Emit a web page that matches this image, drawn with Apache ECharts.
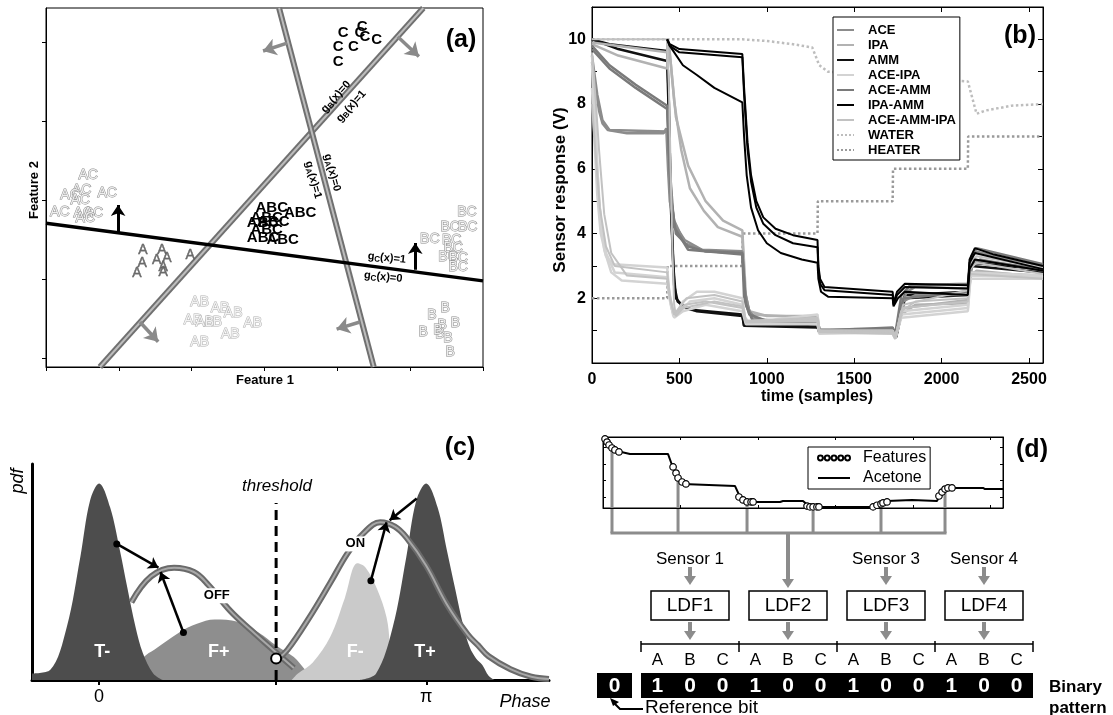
<!DOCTYPE html>
<html><head><meta charset="utf-8">
<script src="https://cdn.jsdelivr.net/npm/echarts@6.0.0/dist/echarts.min.js"></script>
<style>html,body{margin:0;padding:0;background:#fff;}#chart{width:1113px;height:715px;}</style>
</head><body><div id="chart"></div>
<script>
const FONT = '"Liberation Sans", Arial, Helvetica, sans-serif';

// ---------------- (a) feature space ----------------
const aLineC = [[0,1.82],[6,1.09]];
const aLineB = [[0.74,0],[5.18,4.544]];
const aLineA = [[3.20,4.544],[4.50,0]];
const aC   = [[4.08,4.23],[4.01,4.05],[4.22,4.05],[4.01,3.86],[4.34,4.30],[4.38,4.18],[4.54,4.14],[4.31,4.23]];
const aAC  = [[0.58,2.43],[0.49,2.24],[0.33,2.18],[0.84,2.20],[0.47,2.11],[0.19,1.96],[0.51,1.95],[0.65,1.95],[0.54,1.89]];
const aA   = [[1.33,1.48],[1.59,1.48],[1.98,1.42],[1.32,1.32],[1.52,1.35],[1.66,1.38],[1.61,1.27],[1.25,1.19],[1.61,1.20]];
const aABC = [[3.10,2.01],[3.49,1.95],[3.03,1.89],[2.98,1.82],[3.03,1.73],[2.98,1.63],[3.25,1.61],[3.12,1.84]];
const aBC  = [[5.78,1.96],[5.55,1.77],[5.79,1.77],[5.27,1.62],[5.57,1.61],[5.59,1.51],[5.52,1.39],[5.66,1.38],[5.66,1.27]];
const aAB  = [[2.11,0.82],[2.39,0.75],[2.57,0.68],[2.02,0.59],[2.29,0.57],[2.84,0.56],[2.53,0.42],[2.11,0.32],[2.18,0.57]];
const aB   = [[5.48,0.75],[5.30,0.66],[5.62,0.56],[5.18,0.44],[5.44,0.53],[5.41,0.41],[5.52,0.37],[5.55,0.19],[5.38,0.47]];
const aArrowsUp   = [[[0.99,1.71],[0.99,2.05]],[[5.07,1.23],[5.07,1.57]]];
const aArrowsGray = [[[4.83,4.18],[5.12,3.93]],[[1.29,0.57],[1.54,0.32]],[[3.31,4.10],[2.98,4.00]],[[4.31,0.57],[3.99,0.48]]];
const aLabB = [[3.98,3.42,'0'],[4.19,3.30,'1']];
const aLabA = [[3.93,2.46,'0'],[3.67,2.37,'1']];
const aLabC = [[4.68,1.38,'1'],[4.63,1.14,'0']];
const aYTicks = [0.114,1.114,2.114,3.114,4.114];

// ---------------- (b) sensor responses ----------------
const bNames = ['ACE','IPA','AMM','ACE-IPA','ACE-AMM','IPA-AMM','ACE-AMM-IPA','WATER','HEATER'];
const bACE = [
 [[0,9.3],[20,8.5],[40,7.8],[60,7.4],[90,7.2],[200,7.1],[410,7.1],[425,7.25],[435,6.0],[445,5.0],[470,4.3],[530,3.8],[630,3.5],[860,3.45],[875,2.2],[900,1.6],[950,1.3],[1290,1.2],[1300,1.0],[1500,1.05],[1720,1.05],[1735,0.8],[1760,1.6],[1800,2.2],[1850,2.35],[2150,2.3],[2165,3.2],[2200,3.45],[2300,3.3],[2580,3.0]],
 [[0,9.5],[30,8.3],[60,7.5],[100,7.2],[430,7.15],[445,5.3],[470,4.4],[530,3.7],[650,3.45],[860,3.4],[880,1.9],[920,1.35],[1290,1.25],[1310,0.95],[1720,0.95],[1730,0.8],[1780,1.9],[1850,2.1],[2150,2.1],[2170,3.0],[2220,3.2],[2580,2.85]]
];
const bIPA = [
 [[0,9.85],[150,9.5],[430,9.1],[432,10],[445,9.6],[470,8.1],[510,6.6],[560,5.4],[640,4.7],[720,4.2],[860,3.9],[875,2.2],[900,1.6],[1000,1.45],[1290,1.45],[1300,1.0],[1720,0.95],[1735,0.75],[1770,1.5],[1850,1.8],[2150,1.85],[2165,2.7],[2200,2.85],[2580,2.65]],
 [[0,9.9],[430,9.6],[435,10],[450,9.3],[480,7.6],[550,6.1],[650,5.0],[750,4.4],[860,4.1],[880,2.1],[900,1.5],[1290,1.4],[1300,1.05],[1720,1.0],[1735,0.8],[1780,1.7],[2150,1.95],[2170,2.8],[2580,2.7]]
];
const bAMM = [
 [[0,10],[100,9.85],[430,9.64],[440,8.0],[450,5.0],[465,3.0],[480,2.0],[520,1.75],[600,1.6],[860,1.45],[870,1.15],[900,1.2],[1290,1.15],[1300,1.0],[1720,1.05],[1740,0.85],[1790,2.1],[2150,2.2],[2170,3.1],[2580,2.9]],
 [[0,10],[150,9.7],[430,9.33],[440,7.5],[455,4.5],[470,2.4],[490,1.9],[550,1.65],[860,1.5],[870,1.15],[1290,1.1],[1300,0.95],[1720,1.0],[1740,0.8],[1790,2.0],[2150,2.1],[2170,3.0],[2580,2.8]]
];
const bACEIPA = [
 [[0,8.5],[15,6.8],[30,5.2],[50,4.0],[80,3.3],[120,3.05],[430,2.95],[440,2.3],[460,1.6],[480,1.5],[520,1.9],[600,2.2],[700,2.2],[860,2.0],[875,1.4],[900,1.25],[1290,1.5],[1300,1.0],[1720,1.0],[1735,0.8],[1770,1.4],[2150,1.6],[2165,2.6],[2580,2.6]],
 [[0,9.5],[15,8.0],[30,6.0],[50,4.4],[80,3.4],[130,2.8],[430,2.65],[445,2.0],[465,1.45],[490,1.5],[560,1.9],[700,2.0],[860,1.8],[880,1.3],[1290,1.3],[1300,0.95],[1720,0.9],[1735,0.75],[1770,1.5],[2150,1.7],[2165,2.7],[2580,2.65]],
 [[0,9.2],[20,7.2],[40,5.0],[70,3.5],[110,2.8],[170,2.55],[430,2.45],[450,1.8],[470,1.4],[520,1.6],[650,1.8],[860,1.6],[880,1.2],[1290,1.2],[1300,0.9],[1720,0.95],[1735,0.75],[1770,1.6],[2150,1.8],[2165,2.8],[2580,2.7]]
];
const bACEAMM = [
 [[0,9.8],[100,9.2],[250,8.6],[430,7.95],[440,6.5],[455,5.0],[480,4.0],[550,3.6],[650,3.45],[860,3.4],[870,2.0],[900,1.5],[1000,1.3],[1290,1.3],[1300,1.0],[1720,1.1],[1735,0.9],[1770,2.1],[1820,2.4],[2150,2.45],[2170,3.3],[2200,3.55],[2580,3.05]],
 [[0,9.7],[100,9.1],[250,8.5],[430,7.85],[445,6.0],[470,4.2],[550,3.5],[860,3.35],[880,1.8],[920,1.3],[1290,1.2],[1300,0.95],[1720,1.0],[1740,0.8],[1780,2.0],[2150,2.2],[2180,3.2],[2580,2.9]]
];
const bIPAAMM = [
 [[430,10],[445,9.85],[500,9.7],[860,9.55],[870,8.5],[890,6.8],[910,5.8],[940,5.0],[980,4.5],[1050,4.15],[1150,3.95],[1290,3.8],[1295,3.0],[1305,2.6],[1330,2.35],[1720,2.2],[1725,1.85],[1745,2.2],[1790,2.45],[2150,2.4],[2160,3.2],[2190,3.55],[2300,3.35],[2580,3.0]],
 [[430,10],[445,9.8],[500,9.6],[860,9.45],[870,8.3],[890,6.6],[910,5.6],[940,4.8],[980,4.3],[1050,3.95],[1150,3.7],[1290,3.58],[1295,2.9],[1305,2.45],[1330,2.25],[1720,2.1],[1725,1.8],[1745,2.1],[1790,2.35],[2150,2.3],[2160,3.1],[2190,3.4],[2580,2.9]],
 [[430,10],[445,9.8],[520,9.2],[600,8.9],[700,8.5],[860,8.05],[870,7.0],[885,5.8],[910,4.8],[950,4.1],[1000,3.7],[1080,3.4],[1200,3.2],[1290,3.1],[1295,2.6],[1310,2.2],[1350,2.05],[1720,2.0],[1725,1.75],[1750,2.0],[1790,2.2],[2150,2.1],[2160,2.9],[2190,3.2],[2580,2.85]]
];
const bACEAMMIPA = [
 [[0,9.6],[20,8.2],[40,6.6],[70,4.6],[110,3.4],[200,2.7],[430,2.6],[445,2.0],[470,1.5],[530,1.8],[650,1.9],[860,1.7],[880,1.3],[1290,1.35],[1300,1.0],[1720,1.0],[1735,0.8],[1770,1.6],[1850,1.9],[2150,2.0],[2165,2.9],[2200,3.1],[2580,2.75]],
 [[0,8.0],[20,6.5],[45,4.8],[80,3.6],[130,3.0],[430,2.8],[445,2.1],[470,1.5],[540,2.0],[700,2.1],[860,1.9],[880,1.3],[1290,1.4],[1300,1.0],[1720,0.95],[1735,0.8],[1780,1.8],[2150,2.25],[2165,3.1],[2200,3.3],[2580,2.95]],
 [[0,10],[430,10],[440,8.5],[450,6.0],[460,3.5],[470,1.8],[480,1.45],[520,1.7],[700,1.9],[860,1.75],[880,1.25],[1290,1.3],[1300,0.95],[1720,0.9],[1735,0.75],[1780,1.7],[2150,1.9],[2165,2.75],[2580,2.6]]
];
const bWATER = [[[0,10],[860,10],[1000,9.95],[1150,9.85],[1260,9.75],[1300,9.2],[1350,9.0],[1720,8.9],[1800,8.8],[2150,8.7],[2165,8.4],[2200,7.7],[2250,7.8],[2400,7.95],[2580,8.0]]];
const bHEATER = [[[0,2],[430,2],[432,3],[860,3],[862,4],[1290,4],[1292,5],[1720,5],[1722,6],[2150,6],[2152,7],[2580,7]]];

// ---------------- (c) phase pdfs ----------------
const cTminus = [[-0.644,0.03],[-0.47,0.046],[-0.31,0.245],[-0.18,0.57],[-0.087,0.83],[0,0.91],[0.106,0.80],[0.20,0.60],[0.27,0.43],[0.35,0.245],[0.42,0.125],[0.52,0.03],[0.61,0]];
const cTplus  = [[2.50,0],[2.66,0.03],[2.82,0.245],[2.95,0.57],[3.045,0.83],[3.14,0.91],[3.25,0.80],[3.34,0.60],[3.42,0.42],[3.50,0.245],[3.56,0.15],[3.62,0.10],[3.68,0.07],[3.74,0.02],[3.80,0]];
const cFplus  = [[0.30,0.01],[0.43,0.106],[0.53,0.14],[0.77,0.22],[0.94,0.26],[1.11,0.28],[1.33,0.27],[1.53,0.22],[1.70,0.16],[1.87,0.106],[1.98,0.046],[2.05,0.014],[2.10,0]];
const cFminus = [[1.85,0],[1.91,0.03],[2.05,0.08],[2.22,0.20],[2.36,0.38],[2.48,0.54],[2.56,0.52],[2.67,0.42],[2.76,0.29],[2.79,0.17],[2.80,0.03],[2.84,0]];
const cOff = [[0.31,0.36],[0.50,0.48],[0.72,0.52],[0.91,0.50],[1.05,0.44],[1.26,0.32],[1.46,0.23],[1.67,0.14],[1.87,0.055]];
const cOn  = [[1.72,0.10],[1.81,0.14],[2.02,0.29],[2.22,0.45],[2.39,0.59],[2.54,0.68],[2.70,0.73],[2.84,0.71],[2.95,0.66],[3.14,0.53],[3.34,0.35],[3.54,0.21],[3.64,0.16],[3.74,0.11],[3.95,0.05],[4.15,0.015],[4.32,0.005]];
const cThreshold = 1.70;
const cThresholdTop = 0.82;
const cArrows = [[[0.17,0.63],[0.57,0.52]],[[0.81,0.22],[0.59,0.50]],[[3.05,0.84],[2.79,0.74]],[[2.61,0.46],[2.76,0.73]]];
const cDots = [[0.17,0.63],[0.81,0.22],[2.61,0.46]];
const cCrossing = [[1.70,0.10]];
const cRegionLabels = [[0.03,0.13,'T-'],[1.15,0.13,'F+'],[2.46,0.13,'F-'],[3.13,0.13,'T+']];
const cCurveLabels = [[1.13,0.39,'OFF'],[2.46,0.63,'ON']];
const cTickLabels = ['0','π'];

// ---------------- (d) acetone features & binary pattern ----------------
const dAcetone = [[0,3.64],[13,3.58],[45,3.15],[90,2.79],[174,2.61],[419,2.61],[445,1.94],[477,1.21],[516,0.79],[851,0.67],[884,0],[929,-0.30],[1142,-0.30],[1161,-0.24],[1290,-0.24],[1335,-0.61],[1722,-0.61],[1767,-0.48],[1832,-0.24],[1993,-0.18],[2154,-0.24],[2174,0.12],[2219,0.55],[2451,0.55],[2464,0.48],[2580,0.48]];
const dFeatures = [[13,3.52],[26,3.33],[39,3.15],[58,2.97],[77,2.85],[103,2.73],
 [452,1.82],[471,1.45],[484,1.15],[510,0.91],[535,0.79],
 [877,0],[903,-0.18],[929,-0.30],[955,-0.30],[968,-0.30],
 [1316,-0.55],[1335,-0.6],[1355,-0.6],[1380,-0.6],[1393,-0.6],
 [1742,-0.6],[1767,-0.5],[1793,-0.42],[1806,-0.36],[1832,-0.30],
 [2167,0.06],[2187,0.30],[2206,0.48],[2225,0.55],[2251,0.55]];
const dConnectors = [[58,2.97],[484,1.15],[929,-0.30],[1355,-0.6],[1793,-0.42],[2206,0.48]];
const dSensorLabels = ['Sensor 1','','Sensor 3','Sensor 4'];
const dLdfLabels = ['LDF1','LDF2','LDF3','LDF4'];
const dClassLabels = ['A','B','C'];
const dRefBit = ['0'];
const dBits = [1,0,0,1,0,0,1,0,0,1,0,0];

// ================= build =================
const chart = echarts.init(document.getElementById('chart'));
const series = [];
const CLEAR = {color:'rgba(0,0,0,0)',opacity:1};

// (a)
function grayBand(data){
  series.push({type:'line',xAxisIndex:0,yAxisIndex:0,data,symbol:'none',silent:true,lineStyle:{color:'#707070',width:6},z:3});
  series.push({type:'line',xAxisIndex:0,yAxisIndex:0,data,symbol:'none',silent:true,lineStyle:{color:'#bdbdbd',width:2},z:3});
}
grayBand(aLineB); grayBand(aLineA);
series.push({type:'line',xAxisIndex:0,yAxisIndex:0,data:aLineC,symbol:'none',lineStyle:{color:'#000',width:3.5},z:3});
series.push({type:'lines',coordinateSystem:'cartesian2d',xAxisIndex:0,yAxisIndex:0,z:4,
  data:aArrowsUp.map(c=>({coords:c})),symbol:['none','arrow'],symbolSize:11,lineStyle:{color:'#000',width:3,opacity:1}});
series.push({type:'lines',coordinateSystem:'cartesian2d',xAxisIndex:0,yAxisIndex:0,z:4,
  data:aArrowsGray.map(c=>({coords:c})),symbol:['none','arrow'],symbolSize:13,lineStyle:{color:'#8a8a8a',width:3.5,opacity:1}});
function cluster(data,text,style){
  series.push({type:'scatter',xAxisIndex:0,yAxisIndex:0,data,symbolSize:1,itemStyle:CLEAR,z:5,
    label:Object.assign({show:true,position:'inside',opacity:1,formatter:text,fontFamily:FONT,fontSize:14,textBorderWidth:0},style)});
}
cluster(aAB,'AB',{color:'#f2f2f2',textBorderColor:'#b0b0b0',textBorderWidth:1});
cluster(aAC,'AC',{color:'#eeeeee',textBorderColor:'#8a8a8a',textBorderWidth:1});
cluster(aBC,'BC',{color:'#eeeeee',textBorderColor:'#8a8a8a',textBorderWidth:1});
cluster(aB,'B',{color:'#eeeeee',textBorderColor:'#8a8a8a',textBorderWidth:1});
cluster(aA,'A',{color:'#6a6a6a',textBorderColor:'#555',textBorderWidth:0.4});
cluster(aC,'C',{color:'#000',fontWeight:'bold',fontSize:15});
cluster(aABC,'ABC',{color:'#000',fontWeight:'bold',fontSize:15});
const gRich = {g:{fontFamily:FONT,fontSize:11,fontWeight:'bold',color:'#000'},s:{fontFamily:FONT,fontSize:8,fontWeight:'bold',color:'#000',padding:[5,0,0,0]}};
function gLabels(data,sub,rot){
  series.push({type:'scatter',xAxisIndex:0,yAxisIndex:0,data,symbolSize:1,itemStyle:CLEAR,z:6,
    label:{show:true,position:'inside',opacity:1,rotate:rot,textBorderWidth:0,formatter:p=>`{g|g}{s|${sub}}{g|(x)=${p.value[2]}}`,rich:gRich}});
}
gLabels(aLabB,'B',48); gLabels(aLabA,'A',-75); gLabels(aLabC,'C',-6);

// (b)
const bStyles = {
  'ACE':{color:'#8c8c8c',width:2.5},
  'IPA':{color:'#b2b2b2',width:2.5},
  'AMM':{color:'#111',width:2.5},
  'ACE-IPA':{color:'#d3d3d3',width:2.5},
  'ACE-AMM':{color:'#7a7a7a',width:2.5},
  'IPA-AMM':{color:'#000',width:2},
  'ACE-AMM-IPA':{color:'#c2c2c2',width:2},
  'WATER':{color:'#bdbdbd',width:2.5,type:'dotted'},
  'HEATER':{color:'#9a9a9a',width:2.5,type:'dotted'}
};
const bDrawOrder = [['HEATER',bHEATER],['WATER',bWATER],['AMM',bAMM],['IPA',bIPA],['ACE',bACE],['ACE-AMM',bACEAMM],['ACE-IPA',bACEIPA],['ACE-AMM-IPA',bACEAMMIPA],['IPA-AMM',bIPAAMM]];
bDrawOrder.forEach(([name,lines])=>{
  lines.forEach(l=>series.push({type:'line',name,xAxisIndex:1,yAxisIndex:1,data:l,symbol:'none',
    lineStyle:Object.assign({},bStyles[name]),itemStyle:{color:bStyles[name].color}}));
});

// (c)
function area(data,color){
  series.push({type:'line',xAxisIndex:2,yAxisIndex:2,data,symbol:'none',smooth:0.35,lineStyle:{width:0,color},areaStyle:{color,opacity:1,origin:'start'},z:2});
}
function tube(data){
  series.push({type:'line',xAxisIndex:2,yAxisIndex:2,data,symbol:'none',smooth:0.4,lineStyle:{color:'#6a6a6a',width:6},z:2});
  series.push({type:'line',xAxisIndex:2,yAxisIndex:2,data,symbol:'none',smooth:0.4,lineStyle:{color:'#a8a8a8',width:2},z:2});
}
area(cFplus,'#8e8e8e');
tube(cOff);
area(cTminus,'#4d4d4d');
area(cFminus,'#cacaca');
tube(cOn);
area(cTplus,'#4d4d4d');
series.push({type:'line',xAxisIndex:2,yAxisIndex:2,data:[[cThreshold,0],[cThreshold,cThresholdTop]],symbol:'none',lineStyle:{color:'#000',width:3,type:[10,6]},z:3});
series.push({type:'lines',coordinateSystem:'cartesian2d',xAxisIndex:2,yAxisIndex:2,z:4,
  data:cArrows.map(c=>({coords:c})),symbol:['none','arrow'],symbolSize:10,lineStyle:{color:'#000',width:2.5,opacity:1}});
series.push({type:'scatter',xAxisIndex:2,yAxisIndex:2,data:cDots,symbolSize:7,itemStyle:{color:'#000',opacity:1},z:5});
series.push({type:'scatter',xAxisIndex:2,yAxisIndex:2,data:cCrossing,symbolSize:10,itemStyle:{color:'#fff',borderColor:'#000',borderWidth:2,opacity:1},z:5});
series.push({type:'scatter',xAxisIndex:2,yAxisIndex:2,data:cRegionLabels,symbolSize:1,itemStyle:CLEAR,z:6,
  label:{show:true,position:'inside',opacity:1,formatter:p=>p.value[2],color:'#fff',fontFamily:FONT,fontSize:18,fontWeight:'bold',textBorderWidth:0}});
series.push({type:'scatter',xAxisIndex:2,yAxisIndex:2,data:cCurveLabels,symbolSize:1,itemStyle:CLEAR,z:6,
  label:{show:true,position:'inside',opacity:1,formatter:p=>p.value[2],color:'#000',fontFamily:FONT,fontSize:13,fontWeight:'bold',textBorderWidth:0,backgroundColor:'#fff',padding:[1,2]}});

// (d)
series.push({type:'line',name:'Acetone',xAxisIndex:3,yAxisIndex:3,data:dAcetone,symbol:'none',lineStyle:{color:'#000',width:2},itemStyle:{color:'#000'},z:3});
series.push({type:'scatter',name:'Features',xAxisIndex:3,yAxisIndex:3,data:dFeatures,symbol:'circle',symbolSize:6.5,itemStyle:{color:'#fff',borderColor:'#000',borderWidth:1.2,opacity:1},z:4});

let circles='path://';
for(let i=0;i<5;i++){const cx=3+i*7;circles+=`M${cx-2.5},3A2.5,2.5 0 1,0 ${cx+2.5},3A2.5,2.5 0 1,0 ${cx-2.5},3Z`;}

const hidden = {show:false};
function frameAxis(extra){return Object.assign({type:'value',splitLine:hidden,axisLine:{show:true,onZero:false,lineStyle:{color:'#000',width:1}}},extra);}
const tickFont = {color:'#000',fontFamily:FONT,fontSize:16,fontWeight:'bold'};

const option = {
  animation:false,
  backgroundColor:'#fff',
  grid:[
    {left:46,top:8,width:437,height:359,show:true,borderColor:'#000',borderWidth:1,outerBoundsMode:'none'},
    {left:592,top:7,width:451,height:356,show:true,borderColor:'#000',borderWidth:1,outerBoundsMode:'none'},
    {left:32,top:464,width:517,height:216,outerBoundsMode:'none'},
    {left:603,top:437,width:400,height:71,show:true,borderColor:'#000',borderWidth:1,outerBoundsMode:'none'}
  ],
  xAxis:[
    frameAxis({gridIndex:0,min:0,max:6,interval:1,axisTick:{inside:false,length:4,lineStyle:{color:'#000'}},axisLabel:hidden}),
    frameAxis({gridIndex:1,min:0,max:2580,interval:500,axisTick:{inside:true,length:5,lineStyle:{color:'#000'}},
      axisLabel:Object.assign({margin:9,formatter:v=>(v%500===0?String(v):'')},tickFont)}),
    frameAxis({gridIndex:2,min:-0.644,max:4.32,axisLine:{show:true,onZero:false,lineStyle:{color:'#000',width:3}},
      axisTick:{customValues:[0,Math.PI,cThreshold],inside:false,length:5,lineStyle:{color:'#000',width:2}},
      axisLabel:{customValues:[0,Math.PI],formatter:v=>(v<1?cTickLabels[0]:cTickLabels[1]),color:'#000',fontFamily:FONT,fontSize:18,margin:8}}),
    frameAxis({gridIndex:3,min:0,max:2580,interval:500,axisTick:{inside:true,length:3,lineStyle:{color:'#000'}},axisLabel:hidden}),
    frameAxis({gridIndex:3,position:'top',min:0,max:2580,interval:500,axisTick:{inside:true,length:3,lineStyle:{color:'#000'}},axisLabel:hidden}),
    frameAxis({gridIndex:1,position:'top',min:0,max:2580,interval:500,axisTick:{inside:true,length:5,lineStyle:{color:'#000'}},axisLabel:hidden})
  ],
  yAxis:[
    frameAxis({gridIndex:0,min:0,max:4.544,axisTick:{customValues:aYTicks,inside:false,length:4,lineStyle:{color:'#000'}},axisLabel:hidden}),
    frameAxis({gridIndex:1,min:0,max:11,interval:1,axisTick:{inside:true,length:5,lineStyle:{color:'#000'}},
      axisLabel:Object.assign({margin:6,formatter:v=>(v>0&&v%2===0?String(v):'')},tickFont)}),
    frameAxis({gridIndex:2,min:0,max:1,axisLine:{show:true,onZero:false,lineStyle:{color:'#000',width:3}},axisTick:hidden,axisLabel:hidden}),
    frameAxis({gridIndex:3,min:-0.667,max:3.636,axisTick:{customValues:[0,1,2,3],inside:true,length:3,lineStyle:{color:'#000'}},axisLabel:hidden}),
    frameAxis({gridIndex:3,position:'right',min:-0.667,max:3.636,axisTick:{customValues:[0,1,2,3],inside:true,length:3,lineStyle:{color:'#000'}},axisLabel:hidden}),
    frameAxis({gridIndex:1,position:'right',min:0,max:11,interval:1,axisTick:{inside:true,length:5,lineStyle:{color:'#000'}},axisLabel:hidden})
  ],
  legend:[
    {data:bNames,orient:'vertical',left:833,top:17,padding:[6,4,3,3],itemWidth:17,itemHeight:10,itemGap:1,
     itemStyle:{opacity:0},
     backgroundColor:'#fff',borderColor:'#000',borderWidth:1,selectedMode:false,
     textStyle:{fontFamily:FONT,fontSize:13,fontWeight:'bold',color:'#000',lineHeight:14,padding:[0,0,0,9]}},
    {data:[{name:'Features',icon:circles},{name:'Acetone',itemStyle:{opacity:0}}],orient:'vertical',left:808,top:447,padding:[2,4,2,9],itemWidth:32,itemHeight:6,itemGap:2,
     backgroundColor:'#fff',borderColor:'#000',borderWidth:1,selectedMode:false,
     textStyle:{fontFamily:FONT,fontSize:16,color:'#000',lineHeight:18,padding:[0,0,0,8]}}
  ],
  series
};
chart.setOption(option);

// ---------- graphic: titles, (d) diagram ----------
const G = [];
function T(x,y,text,st,rot){G.push({type:'text',x,y,rotation:rot||0,z:100,style:Object.assign({text,fontFamily:FONT,fontSize:16,fill:'#000',align:'center',verticalAlign:'middle'},st||{})});}
T(461,40,'(a)',{fontSize:25,fontWeight:'bold'});
T(1020,36,'(b)',{fontSize:25,fontWeight:'bold'});
T(460,448,'(c)',{fontSize:25,fontWeight:'bold'});
T(1032,450,'(d)',{fontSize:25,fontWeight:'bold'});
T(265,380,'Feature 1',{fontSize:13,fontWeight:'bold'});
T(34,190,'Feature 2',{fontSize:13,fontWeight:'bold'},Math.PI/2);
T(817,397,'time (samples)',{fontSize:16,fontWeight:'bold'});
T(560,190,'Sensor response (V)',{fontSize:17,fontWeight:'bold'},Math.PI/2);
T(18,481,'pdf',{fontSize:18,fontStyle:'italic'},Math.PI/2);
T(277,486,'threshold',{fontSize:17,fontStyle:'italic'});
T(525,702,'Phase',{fontSize:18,fontStyle:'italic'});

const GRAY='#8c8c8c';
function downArrow(x,y1,y2,w){
  G.push({type:'line',shape:{x1:x,y1:y1,x2:x,y2:y2-7},style:{stroke:GRAY,lineWidth:w||4}});
  G.push({type:'polygon',shape:{points:[[x-6,y2-9],[x+6,y2-9],[x,y2]]},style:{fill:GRAY}});
}
// connectors from the feature clusters
const busY = 533;
const px = dConnectors.map(p=>chart.convertToPixel({xAxisIndex:3,yAxisIndex:3},p));
px.forEach(p=>G.push({type:'line',shape:{x1:p[0],y1:p[1],x2:p[0],y2:busY},style:{stroke:GRAY,lineWidth:3}}));
G.push({type:'line',shape:{x1:px[0][0]-1.5,y1:busY,x2:px[px.length-1][0]+1.5,y2:busY},style:{stroke:GRAY,lineWidth:3}});
const secLeft=641, secW=98, cellW=secW/3;
const centers=[0,1,2,3].map(i=>secLeft+secW*(i+0.5));
downArrow(centers[1],busY,588,4);
dSensorLabels.forEach((s,i)=>{ if(s){ T(centers[i],559,s,{fontSize:17}); downArrow(centers[i],567,585,4);} });
dLdfLabels.forEach((s,i)=>{
  G.push({type:'rect',shape:{x:centers[i]-39,y:591,width:78,height:29},style:{fill:'#fff',stroke:'#000',lineWidth:1.5}});
  T(centers[i],606,s,{fontSize:19});
  downArrow(centers[i],622,640,4);
});
// bracket
G.push({type:'line',shape:{x1:secLeft,y1:644,x2:secLeft+4*secW,y2:644},style:{stroke:'#000',lineWidth:1.5}});
for(let i=0;i<=4;i++){G.push({type:'line',shape:{x1:secLeft+i*secW,y1:641,x2:secLeft+i*secW,y2:652},style:{stroke:'#000',lineWidth:1.5}});}
for(let i=0;i<4;i++){dClassLabels.forEach((c,j)=>T(secLeft+secW*i+cellW*(j+0.5),660,c,{fontSize:17}));}
// binary pattern
G.push({type:'rect',shape:{x:597,y:673,width:35,height:25},style:{fill:'#000'}});
T(614.5,686,dRefBit[0],{fontSize:21,fontWeight:'bold',fill:'#fff'});
G.push({type:'rect',shape:{x:secLeft,y:673,width:4*secW,height:25},style:{fill:'#000'}});
dBits.forEach((b,k)=>T(secLeft+cellW*(k+0.5),686,String(b),{fontSize:21,fontWeight:'bold',fill:'#fff'}));
T(1049,687,'Binary',{fontSize:17,fontWeight:'bold',align:'left'});
T(1049,708,'pattern',{fontSize:17,fontWeight:'bold',align:'left'});
T(645,708,'Reference bit',{fontSize:19,align:'left'});
G.push({type:'polyline',shape:{points:[[643,709],[620,709],[615,704]]},style:{stroke:'#000',lineWidth:2,fill:null}});
G.push({type:'polygon',shape:{points:[[610,698],[619,702],[613,706]]},style:{fill:'#000'}});

chart.setOption({graphic:{elements:G}});
</script></body></html>
